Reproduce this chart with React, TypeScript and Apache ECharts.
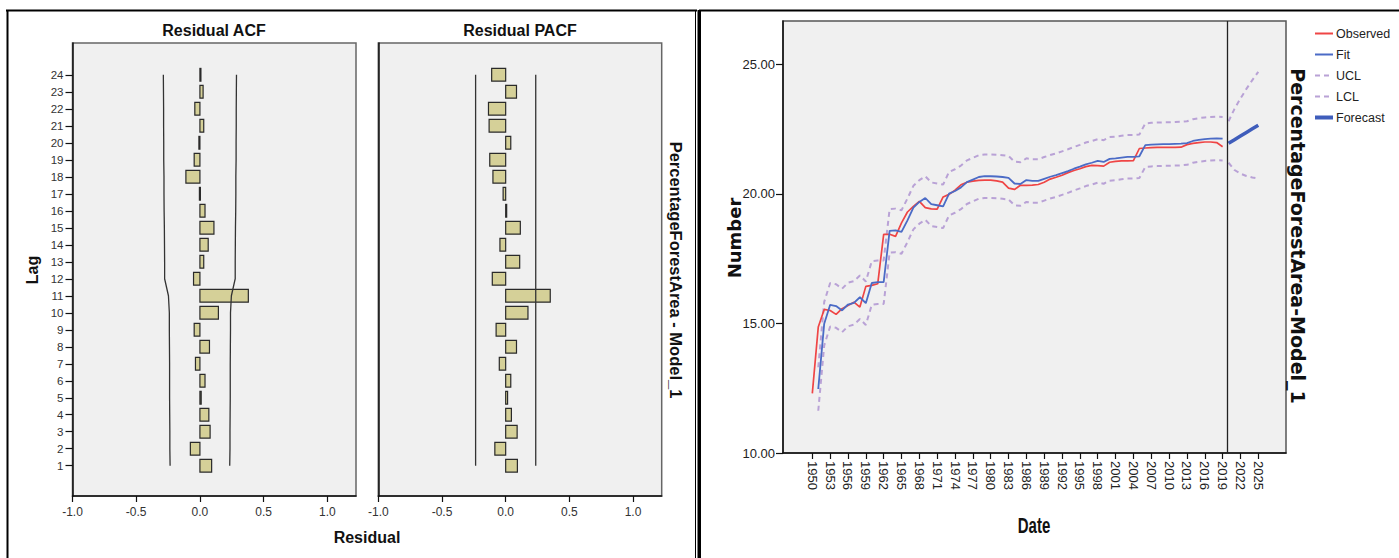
import React, { useEffect, useRef } from "react";
import * as echarts from "echarts";

// ---- Residual ACF / PACF (lags 1..24) ----
const lags = [1, 2, 3, 4, 5, 6, 7, 8, 9, 10, 11, 12, 13, 14, 15, 16, 17, 18, 19, 20, 21, 22, 23, 24];
const acfValues = [
  0.092, -0.075, 0.08, 0.07, 0.01, 0.04, -0.035, 0.075, -0.045, 0.145, 0.38, -0.05,
  0.03, 0.065, 0.11, 0.04, -0.004, -0.11, -0.045, -0.008, 0.03, -0.04, 0.025, 0.002,
];
const acfUpper = [
  0.234, 0.236, 0.236, 0.237, 0.238, 0.238, 0.238, 0.239, 0.24, 0.24, 0.247, 0.277,
  0.277, 0.278, 0.279, 0.281, 0.282, 0.282, 0.284, 0.284, 0.285, 0.285, 0.286, 0.287,
];
const acfLower = [
  -0.234, -0.236, -0.236, -0.237, -0.238, -0.238, -0.238, -0.239, -0.24, -0.24, -0.247, -0.277,
  -0.277, -0.278, -0.279, -0.281, -0.282, -0.282, -0.284, -0.284, -0.285, -0.285, -0.286, -0.287,
];
const pacfValues = [
  0.092, -0.085, 0.09, 0.045, 0.015, 0.04, -0.05, 0.085, -0.075, 0.175, 0.35, -0.105,
  0.11, -0.045, 0.115, 0.005, -0.02, -0.1, -0.125, 0.04, -0.13, -0.135, 0.085, -0.11,
];
const pacfUpper = 0.236;
const pacfLower = -0.236;
const residualTicks = [-1, -0.5, 0, 0.5, 1];

// ---- PercentageForestArea series ----
const firstYear = 1950;
const observed = [
  12.3, 14.86, 15.54, 15.5, 15.35, 15.57, 15.69, 15.82, 15.63, 16.43,
  16.47, 16.53, 18.44, 18.44, 18.36, 18.88, 19.3, 19.52, 19.71, 19.47,
  19.42, 19.41, 19.88, 19.98, 20.14, 20.35, 20.45, 20.49, 20.52, 20.53,
  20.53, 20.5, 20.45, 20.22, 20.17, 20.33, 20.33, 20.34, 20.36, 20.45,
  20.57, 20.64, 20.72, 20.82, 20.9, 20.97, 21.05, 21.1, 21.09, 21.07,
  21.22, 21.25, 21.27, 21.27, 21.28, 21.75, 21.77, 21.78, 21.79, 21.79,
  21.79, 21.79, 21.8, 21.9, 21.95, 21.98, 22.0, 22.0, 21.98, 21.82,
];
// fitted values, UCL and LCL start one year later (1951)
const fitFirstYear = 1951;
const fit = [
  12.47, 14.99, 15.72, 15.67, 15.5, 15.73, 15.79, 16.01, 15.78,
  16.56, 16.59, 16.59, 18.57, 18.59, 18.53, 18.98, 19.47, 19.69, 19.84,
  19.6, 19.56, 19.52, 20.01, 20.11, 20.25, 20.45, 20.55, 20.65, 20.68,
  20.68, 20.67, 20.65, 20.62, 20.4, 20.38, 20.53, 20.5, 20.5, 20.58,
  20.66, 20.72, 20.8, 20.88, 20.97, 21.05, 21.14, 21.2, 21.27, 21.23,
  21.35, 21.37, 21.4, 21.43, 21.43, 21.45, 21.88, 21.9, 21.91, 21.92,
  21.92, 21.93, 21.94, 21.96, 22.04, 22.08, 22.11, 22.13, 22.14, 22.13,
];
const ucl = [
  13.31, 15.83, 16.56, 16.51, 16.34, 16.57, 16.63, 16.85, 16.62,
  17.4, 17.43, 17.43, 19.41, 19.43, 19.37, 19.82, 20.31, 20.53, 20.68,
  20.44, 20.4, 20.36, 20.85, 20.95, 21.09, 21.29, 21.39, 21.49, 21.52,
  21.52, 21.51, 21.49, 21.46, 21.24, 21.22, 21.37, 21.34, 21.34, 21.42,
  21.5, 21.56, 21.64, 21.72, 21.81, 21.89, 21.98, 22.04, 22.11, 22.07,
  22.19, 22.21, 22.24, 22.27, 22.27, 22.29, 22.72, 22.74, 22.75, 22.76,
  22.76, 22.77, 22.78, 22.8, 22.88, 22.92, 22.95, 22.97, 22.98, 22.97,
];
const lcl = [
  11.63, 14.15, 14.88, 14.83, 14.66, 14.89, 14.95, 15.17, 14.94,
  15.72, 15.75, 15.75, 17.73, 17.75, 17.69, 18.14, 18.63, 18.85, 19.0,
  18.76, 18.72, 18.68, 19.17, 19.27, 19.41, 19.61, 19.71, 19.81, 19.84,
  19.84, 19.83, 19.81, 19.78, 19.56, 19.54, 19.69, 19.66, 19.66, 19.74,
  19.82, 19.88, 19.96, 20.04, 20.13, 20.21, 20.3, 20.36, 20.43, 20.39,
  20.51, 20.53, 20.56, 20.59, 20.59, 20.61, 21.04, 21.06, 21.07, 21.08,
  21.08, 21.09, 21.1, 21.12, 21.2, 21.24, 21.27, 21.29, 21.3, 21.29,
];
const forecastYears = [2020, 2021, 2022, 2023, 2024, 2025];
const forecast = [21.95, 22.09, 22.23, 22.37, 22.51, 22.65];
const forecastUcl = [22.8, 23.28, 23.68, 24.05, 24.39, 24.71];
const forecastLcl = [21.2, 20.92, 20.78, 20.69, 20.63, 20.59];
const forecastStart = 2019.85;
const yearTicks = [
  1950, 1953, 1956, 1959, 1962, 1965, 1968, 1971, 1974, 1977, 1980, 1983, 1986,
  1989, 1992, 1995, 1998, 2001, 2004, 2007, 2010, 2013, 2016, 2019, 2022, 2025,
];
const numberTicks = [10, 15, 20, 25];
const legendNames = ["Observed", "Fit", "UCL", "LCL", "Forecast"];

const sans = '"Liberation Sans", Arial, Helvetica, sans-serif';
const narrow = '"Liberation Sans Narrow", "Arial Narrow", "Liberation Sans", sans-serif';
const wide = '"DejaVu Sans", Verdana, sans-serif';

const BAR_FILL = "#D5D098";
const BAR_SPAN = 0.75;

const pairs = (xs: number[], ys: number[]) => ys.map((v, i) => [xs[i], v]);
const yearsFrom = (start: number, n: number) => Array.from({ length: n }, (_, i) => start + i);

function residualXAxis(gridIndex: number) {
  return {
    type: "value",
    gridIndex,
    min: -1,
    max: 1.225,
    axisLine: { show: true, onZero: false, lineStyle: { color: "#111", width: 1.5 } },
    axisTick: { show: true, customValues: residualTicks, length: 6, lineStyle: { color: "#111", width: 1.2 } },
    axisLabel: {
      customValues: residualTicks,
      formatter: (v: number) => v.toFixed(1),
      color: "#333",
      fontSize: 12,
      fontFamily: sans,
      margin: 10,
    },
    splitLine: { show: false },
  };
}

function lagYAxis(gridIndex: number, labelled: boolean) {
  return {
    type: "value",
    gridIndex,
    min: -0.78,
    max: 25.87,
    axisLine: { show: true, onZero: false, lineStyle: { color: "#111", width: 1.5 } },
    axisTick: { show: labelled, customValues: lags, length: 7, lineStyle: { color: "#111", width: 1.2 } },
    axisLabel: {
      show: labelled,
      customValues: lags,
      color: "#333",
      fontSize: 11.5,
      fontFamily: sans,
      margin: 9,
    },
    splitLine: { show: false },
  };
}

function barSeries(name: string, values: number[], axisIndex: number) {
  return {
    name,
    type: "custom",
    xAxisIndex: axisIndex,
    yAxisIndex: axisIndex,
    data: values.map((v, i) => [v, lags[i]]),
    encode: { x: 0, y: 1 },
    silent: true,
    renderItem: (_params: any, api: any) => {
      const v = api.value(0);
      const lag = api.value(1);
      const a = api.coord([0, lag]);
      const b = api.coord([v, lag]);
      const h = api.size([0, BAR_SPAN])[1];
      const x0 = Math.min(a[0], b[0]);
      const w = Math.max(Math.abs(b[0] - a[0]), 1);
      return {
        type: "rect",
        shape: { x: x0, y: a[1] - h / 2, width: w, height: h },
        style: { fill: BAR_FILL, stroke: "#2a2a2a", lineWidth: 1.2 },
      };
    },
  };
}

function limitLine(name: string, points: number[][], axisIndex: number) {
  return {
    name,
    type: "line",
    xAxisIndex: axisIndex,
    yAxisIndex: axisIndex,
    data: points,
    symbol: "none",
    silent: true,
    lineStyle: { color: "#333", width: 1.3 },
  };
}

function text(x: number, y: number, s: string, font: string, extra: any = {}) {
  return {
    type: "text",
    x,
    y,
    silent: true,
    ...extra,
    style: {
      text: s,
      font,
      fill: "#111",
      textAlign: "center",
      textVerticalAlign: "middle",
      align: "center",
      verticalAlign: "middle",
    },
  };
}

function buildOption() {
  const obsYears = yearsFrom(firstYear, observed.length);
  const fitYears = yearsFrom(fitFirstYear, fit.length);
  const dashed = { color: "#B9A2D6", width: 2, type: [5, 4] };

  return {
    animation: false,
    backgroundColor: "#fff",
    grid: [
      { left: 72.5, top: 43, width: 283.5, height: 453, show: true, backgroundColor: "#F0F0F0", borderColor: "#666", borderWidth: 1.5 },
      { left: 378.3, top: 43, width: 283.4, height: 453, show: true, backgroundColor: "#F0F0F0", borderColor: "#666", borderWidth: 1.5 },
      { left: 783, top: 21, width: 503, height: 432, show: true, backgroundColor: "#F0F0F0", borderColor: "#555", borderWidth: 1.5 },
    ],
    xAxis: [
      residualXAxis(0),
      residualXAxis(1),
      {
        type: "value",
        gridIndex: 2,
        min: 1945.07,
        max: 2029.66,
        axisLine: { show: true, onZero: false, lineStyle: { color: "#111", width: 1.5 } },
        axisTick: { show: true, customValues: yearTicks, length: 6, lineStyle: { color: "#111", width: 1.2 } },
        axisLabel: {
          customValues: yearTicks,
          rotate: -90,
          formatter: (v: number) => String(v),
          color: "#222",
          fontSize: 13,
          fontFamily: sans,
          margin: 8,
        },
        splitLine: { show: false },
      },
    ],
    yAxis: [
      lagYAxis(0, true),
      lagYAxis(1, false),
      {
        type: "value",
        gridIndex: 2,
        min: 10,
        max: 26.67,
        axisLine: { show: true, onZero: false, lineStyle: { color: "#111", width: 1.5 } },
        axisTick: { show: true, customValues: numberTicks, length: 7, lineStyle: { color: "#111", width: 1.2 } },
        axisLabel: {
          customValues: numberTicks,
          formatter: (v: number) => v.toFixed(2),
          color: "#222",
          fontSize: 13,
          fontFamily: narrow,
          margin: 8,
        },
        splitLine: { show: false },
      },
    ],
    legend: {
      data: legendNames.map((name) =>
        name === "Forecast" ? { name, lineStyle: { width: 4 } } : { name }
      ),
      orient: "vertical",
      left: 1313,
      top: 27,
      padding: 0,
      itemWidth: 18,
      itemHeight: 14,
      itemGap: 8,
      selectedMode: false,
      itemStyle: { opacity: 0 },
      textStyle: { fontFamily: narrow, fontSize: 12.5, color: "#222", padding: [0, 0, 0, -2] },
    },
    series: [
      limitLine("ACF upper", pairs(acfUpper, lags), 0),
      limitLine("ACF lower", pairs(acfLower, lags), 0),
      barSeries("ACF", acfValues, 0),
      limitLine("PACF upper", [[pacfUpper, lags[0]], [pacfUpper, lags[lags.length - 1]]], 1),
      limitLine("PACF lower", [[pacfLower, lags[0]], [pacfLower, lags[lags.length - 1]]], 1),
      barSeries("PACF", pacfValues, 1),
      {
        name: "UCL", type: "line", xAxisIndex: 2, yAxisIndex: 2, symbol: "none",
        data: pairs(fitYears, ucl), lineStyle: dashed, itemStyle: { color: "#B9A2D6" },
      },
      {
        name: "LCL", type: "line", xAxisIndex: 2, yAxisIndex: 2, symbol: "none",
        data: pairs(fitYears, lcl), lineStyle: dashed, itemStyle: { color: "#B9A2D6" },
      },
      {
        name: "UCL", type: "line", xAxisIndex: 2, yAxisIndex: 2, symbol: "none",
        data: pairs(forecastYears, forecastUcl), lineStyle: dashed, itemStyle: { color: "#B9A2D6" },
      },
      {
        name: "LCL", type: "line", xAxisIndex: 2, yAxisIndex: 2, symbol: "none",
        data: pairs(forecastYears, forecastLcl), lineStyle: dashed, itemStyle: { color: "#B9A2D6" },
      },
      {
        name: "Observed", type: "line", xAxisIndex: 2, yAxisIndex: 2, symbol: "none",
        data: pairs(obsYears, observed),
        lineStyle: { color: "#EF4545", width: 1.7 }, itemStyle: { color: "#EF4545" },
      },
      {
        name: "Fit", type: "line", xAxisIndex: 2, yAxisIndex: 2, symbol: "none",
        data: pairs(fitYears, fit),
        lineStyle: { color: "#4B6BC6", width: 1.8 }, itemStyle: { color: "#4B6BC6" },
      },
      {
        name: "Forecast", type: "line", xAxisIndex: 2, yAxisIndex: 2, symbol: "none",
        data: pairs(forecastYears, forecast),
        lineStyle: { color: "#3F5DBB", width: 3.5 }, itemStyle: { color: "#3F5DBB" },
        markLine: {
          silent: true,
          symbol: ["none", "none"],
          label: { show: false },
          lineStyle: { color: "#222", width: 1.3, type: "solid" },
          data: [{ xAxis: forecastStart }],
        },
      },
    ],
    graphic: [
      // panel frames
      { type: "line", silent: true, shape: { x1: 6, y1: 10.5, x2: 697, y2: 10.5 }, style: { stroke: "#000", lineWidth: 2 } },
      { type: "line", silent: true, shape: { x1: 7.5, y1: 10, x2: 7.5, y2: 558 }, style: { stroke: "#000", lineWidth: 2 } },
      { type: "line", silent: true, shape: { x1: 695.5, y1: 10, x2: 695.5, y2: 558 }, style: { stroke: "#000", lineWidth: 1 } },
      { type: "rect", silent: true, shape: { x: 697.5, y: 10, width: 3.5, height: 548 }, style: { fill: "#000" } },
      { type: "line", silent: true, shape: { x1: 699, y1: 10.5, x2: 1399, y2: 10.5 }, style: { stroke: "#000", lineWidth: 2 } },
      // titles and axis names
      text(214, 30, "Residual ACF", `bold 16px ${sans}`),
      text(520, 30, "Residual PACF", `bold 16px ${sans}`),
      text(32, 270, "Lag", `bold 16px ${sans}`, { rotation: Math.PI / 2 }),
      text(367, 537, "Residual", `bold 16px ${sans}`),
      text(676, 270, "PercentageForestArea - Model_1", `bold 16.5px ${sans}`, { rotation: -Math.PI / 2 }),
      text(734, 238, "Number", `bold 18px ${wide}`, { rotation: Math.PI / 2 }),
      text(1034, 525, "Date", `bold 15px ${sans}`, { scaleY: 1.45 }),
      text(1298, 236, "PercentageForestArea-Model_1", `bold 19px ${wide}`, { rotation: -Math.PI / 2 }),
    ],
  };
}

export default function App() {
  const ref = useRef<HTMLDivElement>(null);
  useEffect(() => {
    if (!ref.current) return;
    const chart = echarts.init(ref.current, undefined, { renderer: "svg" });
    chart.setOption(buildOption() as any);
    return () => chart.dispose();
  }, []);
  return (
    <div
      ref={ref}
      style={{ position: "fixed", left: 0, top: 0, width: 1399, height: 558, background: "#fff" }}
    />
  );
}
